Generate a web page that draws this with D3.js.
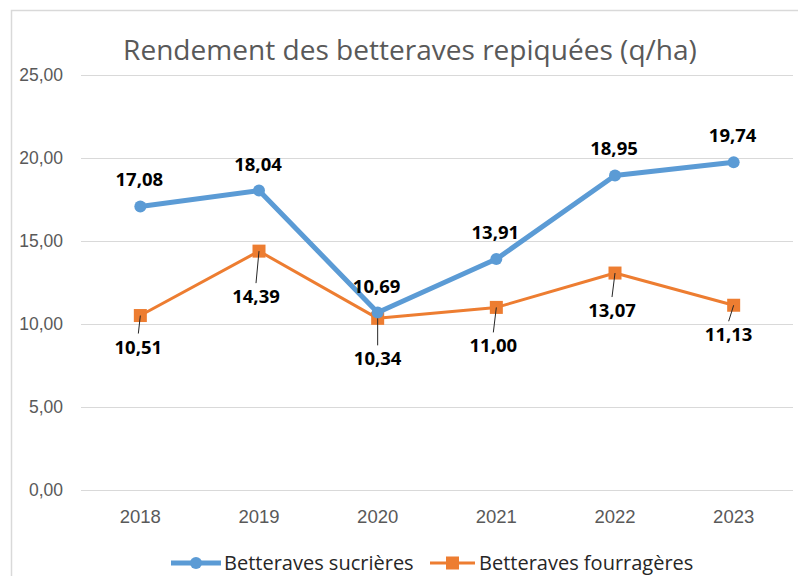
<!DOCTYPE html>
<html>
<head>
<meta charset="utf-8">
<script src="https://cdn.jsdelivr.net/npm/d3@7"></script>
<style>
  body { margin: 0; background: #fff; }
  svg { display: block; font-family: "Open Sans", "Noto Sans", sans-serif; }
</style>
</head>
<body>
<div id="chart"></div>
<script>
// Data
const years = ["2018", "2019", "2020", "2021", "2022", "2023"];
const sucrieres = [17.08, 18.04, 10.69, 13.91, 18.95, 19.74];
const fourrageres = [10.51, 14.39, 10.34, 11.00, 13.07, 11.13];
const yTicks = [0, 5, 10, 15, 20, 25];
const seriesNames = ["Betteraves sucrières", "Betteraves fourragères"];

// label placement for the orange series (labels were dragged by hand in the original)
const orangeLabelDy = [32, 46, 41, 39, 38, 30];
const orangeLabelDx = [-2, -3, 0, -3, -3, -5];

const W = 798, H = 576;
const blue = "#5B9BD5", orange = "#ED7D31";
const fmt = v => v.toFixed(2).replace(".", ",");

const svg = d3.select("#chart").append("svg")
    .attr("width", W)
    .attr("height", H);

// chart area border (left + top visible)
svg.append("path")
    .attr("d", `M11.5,${H} V10.5 H${W}`)
    .attr("fill", "none")
    .attr("stroke", "#D9D9D9")
    .attr("stroke-width", 1.5);

const x = d3.scaleBand()
    .domain(years)
    .range([81, 793]);

const y = d3.scaleLinear()
    .domain([0, 25])
    .range([490, 75]);

// gridlines
svg.append("g")
    .selectAll("line")
    .data(yTicks)
    .join("line")
    .attr("x1", 81)
    .attr("x2", 793)
    .attr("y1", d => Math.round(y(d)) + 0.5)
    .attr("y2", d => Math.round(y(d)) + 0.5)
    .attr("stroke", "#D9D9D9")
    .attr("stroke-width", 1.2);

// y axis labels
const yAxis = svg.append("g")
    .attr("transform", "translate(63,0)")
    .call(d3.axisLeft(y).tickValues(yTicks).tickFormat(fmt).tickSize(0).tickPadding(0));
yAxis.select(".domain").remove();
yAxis.selectAll("text")
    .attr("fill", "#595959")
    .style("font-size", "17.5px");

// x axis labels
const xAxis = svg.append("g")
    .attr("transform", "translate(0,510)")
    .call(d3.axisBottom(x).tickSize(0).tickPadding(0));
xAxis.select(".domain").remove();
xAxis.selectAll("text")
    .attr("fill", "#595959")
    .style("font-size", "18.5px");

// title
const title = svg.append("text")
    .attr("x", 410)
    .attr("y", 60)
    .attr("text-anchor", "middle")
    .attr("fill", "#595959")
    .style("font-size", "26px")
    .text("Rendement des betteraves repiquées (q/ha)");
const tw = title.node().getComputedTextLength();
title.style("font-size", (26 * 574 / tw) + "px");

const cx = d => x(d) + x.bandwidth() / 2;

const line = d3.line()
    .x((d, i) => cx(years[i]))
    .y(d => y(d));

// orange series
svg.append("path")
    .datum(fourrageres)
    .attr("fill", "none")
    .attr("stroke", orange)
    .attr("stroke-width", 3)
    .attr("stroke-linejoin", "round")
    .attr("d", line);

svg.append("g")
    .selectAll("rect")
    .data(fourrageres)
    .join("rect")
    .attr("x", (d, i) => cx(years[i]) - 6.5)
    .attr("y", d => y(d) - 6.5)
    .attr("width", 13)
    .attr("height", 13)
    .attr("fill", orange);

// blue series
svg.append("path")
    .datum(sucrieres)
    .attr("fill", "none")
    .attr("stroke", blue)
    .attr("stroke-width", 5)
    .attr("stroke-linejoin", "round")
    .attr("d", line);

svg.append("g")
    .selectAll("circle")
    .data(sucrieres)
    .join("circle")
    .attr("cx", (d, i) => cx(years[i]))
    .attr("cy", d => y(d))
    .attr("r", 6)
    .attr("fill", blue);

// blue labels above
svg.append("g")
    .selectAll("text")
    .data(sucrieres)
    .join("text")
    .attr("x", (d, i) => cx(years[i]) - 1)
    .attr("y", d => y(d) - 20)
    .attr("text-anchor", "middle")
    .attr("font-weight", "bold")
    .style("font-size", "18.5px")
    .attr("fill", "#000")
    .text(fmt);

// orange labels below with leader lines
svg.append("g")
    .selectAll("line")
    .data(fourrageres)
    .join("line")
    .attr("x1", (d, i) => cx(years[i]))
    .attr("y1", d => y(d))
    .attr("x2", (d, i) => cx(years[i]) + orangeLabelDx[i])
    .attr("y2", (d, i) => y(d) + orangeLabelDy[i] - 14)
    .attr("stroke", "#262626")
    .attr("stroke-width", 1);

svg.append("g")
    .selectAll("text")
    .data(fourrageres)
    .join("text")
    .attr("x", (d, i) => cx(years[i]) + orangeLabelDx[i])
    .attr("y", (d, i) => y(d) + orangeLabelDy[i] + 6)
    .attr("text-anchor", "middle")
    .attr("font-weight", "bold")
    .style("font-size", "18.5px")
    .attr("fill", "#000")
    .text(fmt);

// legend
const legend = svg.append("g").attr("transform", "translate(0,563)");
const l1 = legend.append("g").attr("transform", "translate(171,0)");
l1.append("line").attr("x1", 0).attr("x2", 50).attr("stroke", blue).attr("stroke-width", 5);
l1.append("circle").attr("cx", 25).attr("r", 6).attr("fill", blue);
l1.append("text").attr("x", 53).attr("y", 7).style("font-size", "20px").attr("fill", "#262626").text(seriesNames[0]);

const l2 = legend.append("g").attr("transform", "translate(430,0)");
l2.append("line").attr("x1", 0).attr("x2", 45).attr("stroke", orange).attr("stroke-width", 3);
l2.append("rect").attr("x", 16).attr("y", -6.5).attr("width", 13).attr("height", 13).attr("fill", orange);
l2.append("text").attr("x", 49).attr("y", 7).style("font-size", "20px").attr("fill", "#262626").text(seriesNames[1]);
</script>
</body>
</html>
